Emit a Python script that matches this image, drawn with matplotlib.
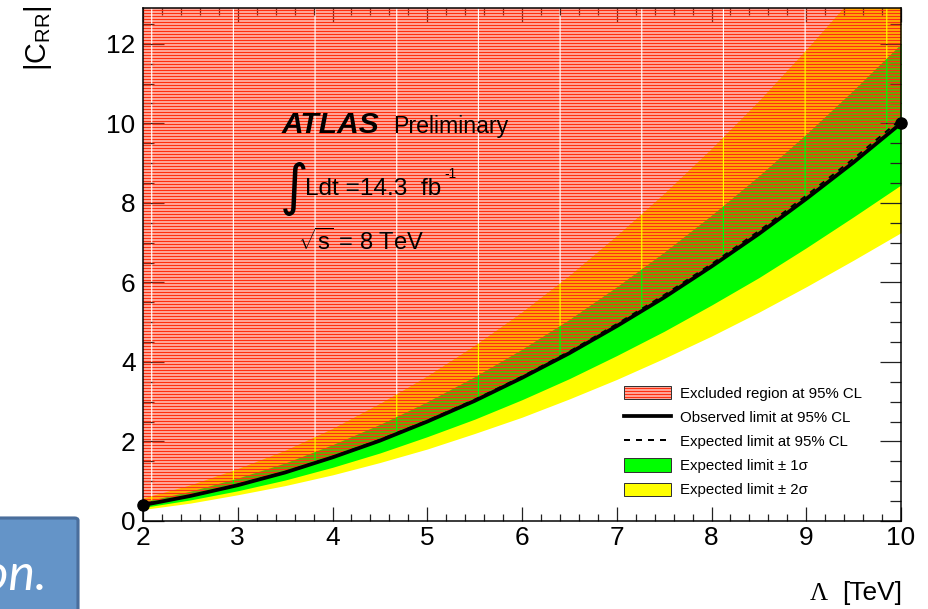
import matplotlib
matplotlib.use("Agg")
import matplotlib.pyplot as plt
from matplotlib.patches import Patch, FancyBboxPatch
from matplotlib.lines import Line2D
from matplotlib.ticker import MultipleLocator
import numpy as np

plt.rcParams['font.family'] = ['Liberation Sans', 'DejaVu Sans']
plt.rcParams['mathtext.fontset'] = 'custom'
plt.rcParams['mathtext.rm'] = 'Liberation Sans'
plt.rcParams['mathtext.it'] = 'Liberation Sans:italic'
plt.rcParams['mathtext.bf'] = 'Liberation Sans:bold'
plt.rcParams['hatch.linewidth'] = 1.5
plt.rcParams['hatch.color'] = '#ff3010'

# Limit on |C_RR| versus Lambda [TeV]
lam = [2.0, 2.5, 3.0, 3.5, 4.0, 4.5, 5.0, 5.5, 6.0, 6.5, 7.0, 7.5, 8.0, 8.5, 9.0, 9.5, 10.0]
obs_limit = [0.40, 0.63, 0.90, 1.22, 1.60, 2.02, 2.50, 3.02, 3.60, 4.22, 4.90, 5.62, 6.40, 7.22, 8.10, 9.02, 10.0]
exp_limit = [0.40, 0.63, 0.91, 1.23, 1.61, 2.04, 2.52, 3.05, 3.63, 4.26, 4.95, 5.68, 6.46, 7.29, 8.18, 9.11, 10.1]
exp_1s_up = [0.48, 0.75, 1.08, 1.46, 1.92, 2.43, 3.00, 3.63, 4.32, 5.07, 5.89, 6.76, 7.69, 8.68, 9.73, 10.84, 12.0]
exp_1s_dn = [0.34, 0.53, 0.76, 1.03, 1.35, 1.71, 2.12, 2.56, 3.05, 3.58, 4.16, 4.77, 5.43, 6.12, 6.87, 7.65, 8.45]
exp_2s_up = [0.58, 0.91, 1.32, 1.78, 2.33, 2.96, 3.65, 4.42, 5.26, 6.18, 7.18, 8.24, 9.37, 10.57, 11.86, 13.2, 14.6]
exp_2s_dn = [0.29, 0.45, 0.66, 0.89, 1.16, 1.47, 1.81, 2.20, 2.61, 3.07, 3.56, 4.09, 4.65, 5.25, 5.89, 6.56, 7.25]

legend_labels = ["Excluded region at 95% CL", "Observed limit at 95% CL",
                 "Expected limit at 95% CL", "Expected limit \u00b1 1\u03c3",
                 "Expected limit \u00b1 2\u03c3"]

W, H, DPI = 928, 609, 90
fig = plt.figure(figsize=(W / DPI, H / DPI), dpi=DPI)

def fx(px):
    return px / W

def fy(py):
    return 1 - py / H

ax = fig.add_axes([fx(143), fy(521), (901 - 143) / W, (521 - 8) / H])
xlo, xhi, ylo, yhi = 2, 10, 0, 12.9
ax.set_xlim(xlo, xhi)
ax.set_ylim(ylo, yhi)

red = '#ff3010'
ax.fill_between(lam, exp_2s_dn, exp_2s_up, color='#ffff00', lw=0, zorder=1)
ax.fill_between(lam, exp_1s_dn, exp_1s_up, color='#00ff00', lw=0, zorder=2)

# excluded region: red stripes, broken by thin vertical gaps
xf = np.linspace(xlo, xhi, 801)
gap_first, gap_step, gap_half = 2.092, 0.862, 0.006
gaps = np.arange(gap_first, xhi, gap_step)
edges = [xlo] + [g for g in gaps for _ in (0, 1)] + [xhi]
for i in range(0, len(edges), 2):
    a, b = edges[i], edges[i + 1]
    if i > 0:
        a += gap_half
    if i + 1 < len(edges) - 1:
        b -= gap_half
    xs = np.concatenate([[a], xf[(xf > a) & (xf < b)], [b]])
    ax.fill_between(xs, np.interp(xs, lam, obs_limit), yhi + 1, facecolor='none',
                    edgecolor=red, hatch='-----', lw=0, zorder=3)

ax.plot(lam, obs_limit, color='black', lw=3.0, zorder=5)
ax.plot(lam, exp_limit, color='black', lw=1.6, ls=(0, (3, 3)), zorder=6)
ax.plot([lam[0], lam[-1]], [obs_limit[0], obs_limit[-1]], 'o', color='black',
        ms=9, clip_on=False, zorder=7)

for s in ax.spines.values():
    s.set_linewidth(1.2)
    s.set_zorder(8)
ax.set_axisbelow(False)
ax.xaxis.set_major_locator(MultipleLocator(1))
ax.xaxis.set_minor_locator(MultipleLocator(0.2))
ax.yaxis.set_major_locator(MultipleLocator(2))
ax.yaxis.set_minor_locator(MultipleLocator(0.5))
ax.tick_params(which='both', direction='in', top=True, right=True, width=1.0,
               labelsize=21, color='#222222')
ax.tick_params(axis='x', which='major', length=11, pad=4)
ax.tick_params(axis='x', which='minor', length=5.5)
ax.tick_params(axis='y', which='major', length=17, pad=6)
ax.tick_params(axis='y', which='minor', length=9)

# axis titles
fig.text(fx(828), fy(600), "\u039b", family='Liberation Serif', fontsize=20,
         ha='right', va='baseline')
fig.text(fx(842), fy(600), "[TeV]", fontsize=21, ha='left', va='baseline')
fig.text(fx(38), fy(6), "|C$_{\\mathrm{RR}}$|", fontsize=23, rotation=90,
         ha='center', va='top')

# labels inside the frame
fig.text(fx(282), fy(133), "ATLAS", fontsize=24, weight='bold', style='italic',
         va='baseline', zorder=10)
fig.text(fx(393), fy(133), "Preliminary", fontsize=18.5, va='baseline', zorder=10)
fig.text(fx(280), fy(204), "\u222b", family='DejaVu Sans', fontsize=44,
         va='baseline', zorder=10)
fig.text(fx(305), fy(195), "Ldt =14.3  fb", fontsize=19.5, va='baseline', zorder=10)
fig.text(fx(444), fy(178), "-1", fontsize=11, va='baseline', zorder=10)
fig.text(fx(298), fy(250), "$\\sqrt{\\mathrm{s}}$ = 8 TeV", fontsize=19,
         va='baseline', zorder=10)

# legend
h_excl = (Patch(facecolor='white', edgecolor=red, hatch='-----', lw=0),
          Patch(facecolor='none', edgecolor='#333333', lw=0.8))
h_obs = Line2D([], [], color='black', lw=3.0)
h_exp = Line2D([], [], color='black', lw=1.6, ls=(0, (3, 3)))
h_1s = Patch(facecolor='#00ff00', edgecolor='#333333', lw=0.8)
h_2s = Patch(facecolor='#ffff00', edgecolor='#333333', lw=0.8)
leg = fig.legend([h_excl, h_obs, h_exp, h_1s, h_2s], legend_labels,
                 loc='upper left', bbox_to_anchor=(fx(624), fy(386)),
                 bbox_transform=fig.transFigure, frameon=False, fontsize=12,
                 handlelength=3.1, handleheight=1.0, handletextpad=0.6,
                 labelspacing=0.62, borderpad=0, borderaxespad=0)

# slide overlay box in the corner
fig.patches.append(FancyBboxPatch((fx(-20), fy(640)), fx(98), (640 - 518) / H,
                                  boxstyle='round,pad=0,rounding_size=0.004',
                                  transform=fig.transFigure, facecolor='#6494c8',
                                  edgecolor='#4a6e9c', lw=2.5, zorder=20))
fig.text(fx(47), fy(590), "ion.", family='Lato', style='italic', fontsize=40,
         color='white', ha='right', va='baseline', zorder=21)

fig.savefig("out.png", dpi=DPI)
